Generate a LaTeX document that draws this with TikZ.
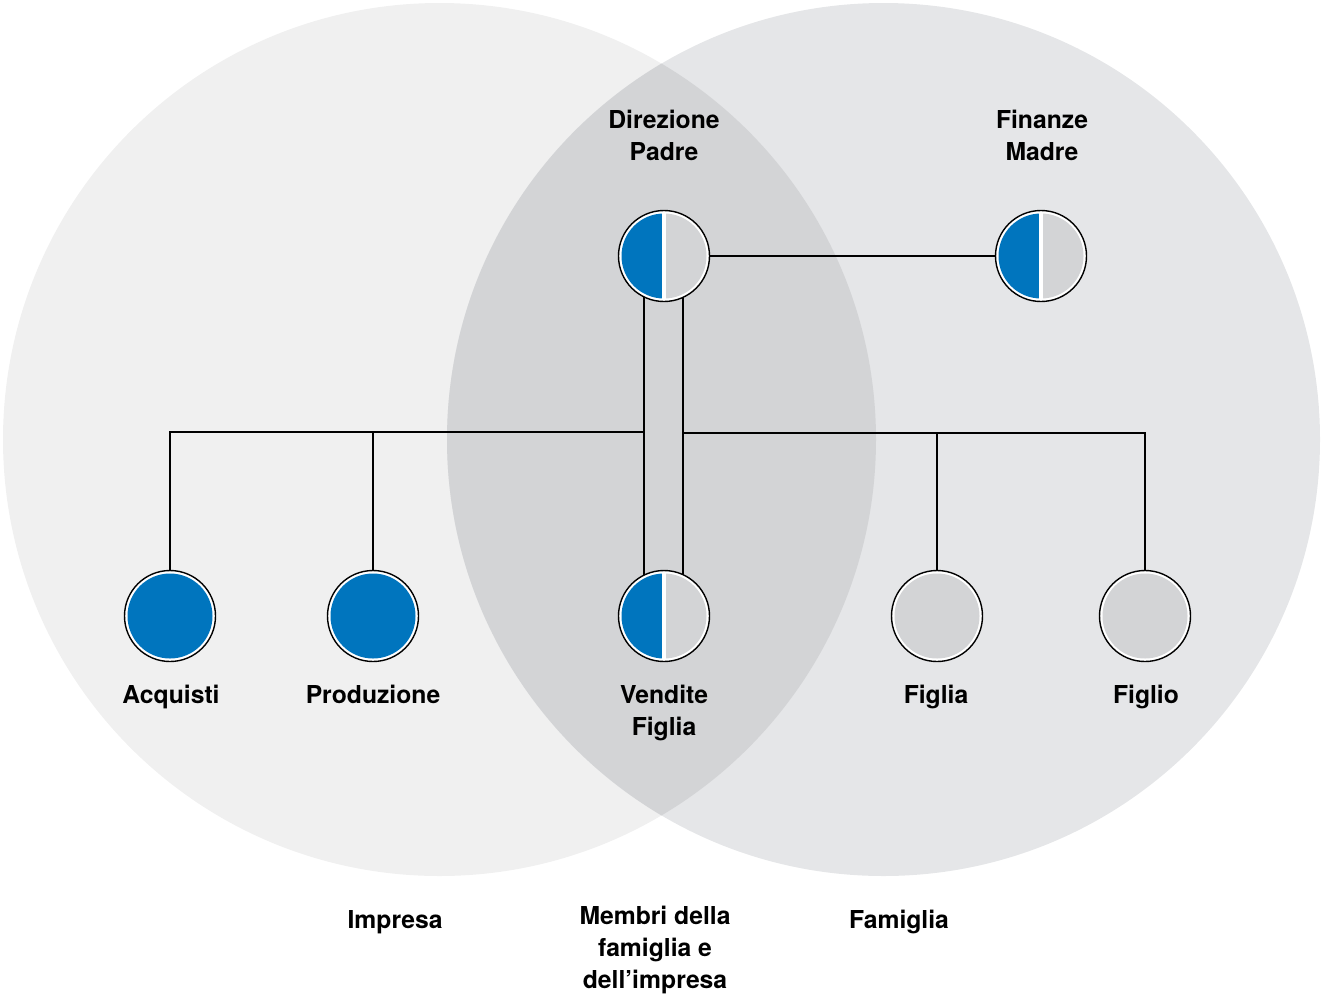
\documentclass[tikz,border=0pt]{standalone}
\usepackage{fontspec}
\setmainfont{TeX Gyre Heros}
\definecolor{leftc}{RGB}{240,240,240}
\definecolor{rightc}{RGB}{229,230,232}
\definecolor{midc}{RGB}{211,212,214}
\definecolor{blu}{RGB}{0,117,190}
\definecolor{gry}{RGB}{211,212,214}
\tikzset{
  x=1pt,y=-1pt,
  hub/.style={circle,minimum size=92pt,inner sep=0pt},
  conn/.style={draw=black,line width=1.2pt},
  lbl/.style={font=\fontsize{24.7}{32}\selectfont\bfseries,align=center,inner sep=0pt,anchor=base},
}
\newcommand{\ringbase}[1]{%
  \fill[white] (#1.center) circle (45.5);
  \draw[black,line width=1.4pt] (#1.center) circle (45.5);}
\newcommand{\fullnode}[2]{%
  \ringbase{#1}
  \fill[#2] (#1.center) circle (42.5);}
\newcommand{\halfnode}[1]{%
  \ringbase{#1}
  \begin{scope}
    \clip (#1.center) circle (42.5);
    \fill[blu] ($(#1.center)+(-50,-50)$) rectangle ($(#1.center)+(-2,50)$);
    \fill[gry] ($(#1.center)+(2,-50)$) rectangle ($(#1.center)+(50,50)$);
  \end{scope}}
\usetikzlibrary{calc}
\begin{document}
\begin{tikzpicture}
\useasboundingbox (0,0) rectangle (1322,994);
% big circles
\fill[leftc] (439.5,439.5) circle (436.5);
\fill[rightc] (883.5,439.5) circle (436.5);
\begin{scope}
  \clip (439.5,439.5) circle (436.5);
  \fill[midc] (883.5,439.5) circle (436.5);
\end{scope}
% node positions
\node[hub] (dir) at (664,256) {};
\node[hub] (fin) at (1041,256) {};
\node[hub] (acq) at (170,616) {};
\node[hub] (pro) at (373,616) {};
\node[hub] (ven) at (664,616) {};
\node[hub] (fga) at (937,616) {};
\node[hub] (fgo) at (1145,616) {};
\coordinate (bl) at (644,432);
\coordinate (br) at (683,433);
% connectors
\draw[conn] (dir) -- (fin);
\draw[conn] ([xshift=-20pt]dir.center) -- ([xshift=-20pt]ven.center);
\draw[conn] ([xshift=19pt]dir.center) -- ([xshift=19pt]ven.center);
\draw[conn] (bl) -- (bl -| acq.center) -- (acq.center);
\draw[conn] (pro.center) -- (pro.center |- bl);
\draw[conn] (br) -- (br -| fgo.center) -- (fgo.center);
\draw[conn] (fga.center) -- (fga.center |- br);
% nodes
\halfnode{dir}
\halfnode{fin}
\halfnode{ven}
\fullnode{acq}{blu}
\fullnode{pro}{blu}
\fullnode{fga}{gry}
\fullnode{fgo}{gry}
% labels (base = baseline of last line)
\node[lbl] (ldir) at (664,160) {Direzione\\Padre};
\node[lbl] (lfin) at (1042,160) {Finanze\\Madre};
\node[lbl] (lacq) at (171,703) {Acquisti};
\node[lbl] (lpro) at (373,703) {Produzione};
\node[lbl] (lven) at (664,735) {Vendite\\Figlia};
\node[lbl] (lfga) at (936,703) {Figlia};
\node[lbl] (lfgo) at (1146,703) {Figlio};
\node[lbl] (limp) at (395,928) {Impresa};
\node[lbl] (lmem) at (655,988) {Membri della\\famiglia e\\dell’impresa};
\node[lbl] (lfam) at (899,928) {Famiglia};
\end{tikzpicture}
\end{document}
